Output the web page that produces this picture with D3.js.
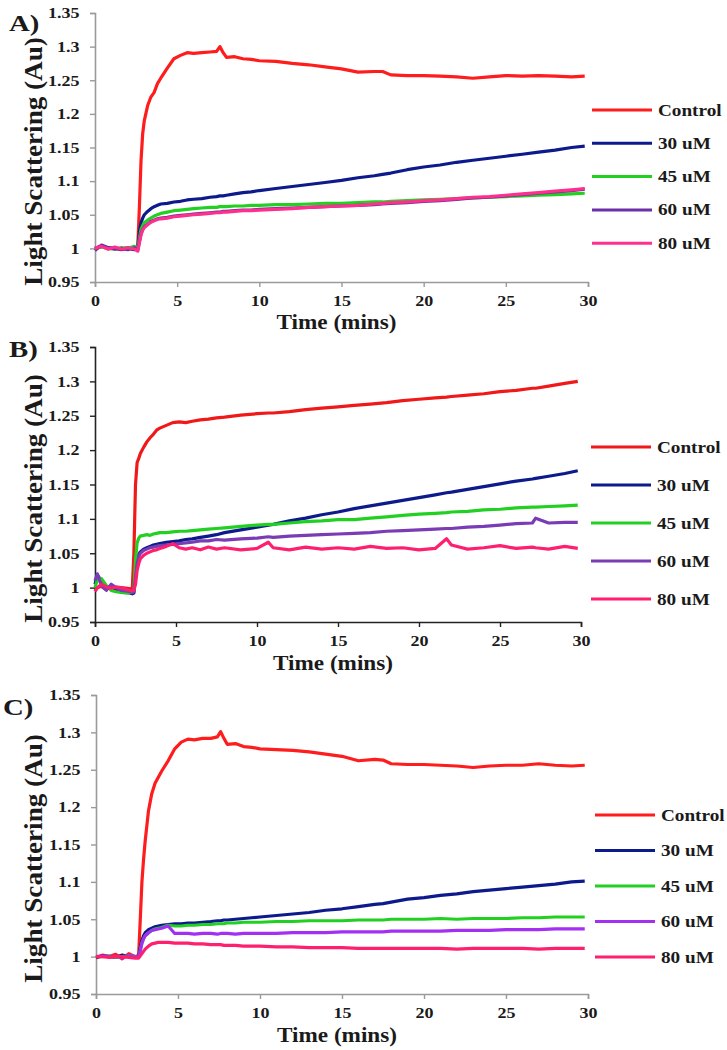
<!DOCTYPE html>
<html>
<head>
<meta charset="utf-8">
<script src="https://cdn.jsdelivr.net/npm/d3@7"></script>
<style>
  body { margin: 0; background: #fff; }
  svg text { font-family: "Liberation Serif", "Times New Roman", serif; font-weight: bold; fill: #1a1a1a; }
</style>
</head>
<body>
<svg id="chart" width="727" height="1050"></svg>
<script>
// time grids (minutes)
var timeAC = [0, 0.4, 0.8, 1.2, 1.6, 2.0, 2.4, 2.6, 2.7, 2.8, 2.9, 3.0, 3.2, 3.4, 3.6, 3.8, 4.0, 4.4, 4.8, 5.2, 5.6, 6.0, 6.5, 7.0, 7.4, 7.6, 7.8, 8.0, 8.5, 9, 9.5, 10, 11, 12, 13, 14, 15, 16, 17, 17.5, 18, 19, 20, 21, 22, 23, 24, 25, 26, 27, 28, 29, 29.8];
var timeB = [0, 0.15, 0.4, 0.7, 1.0, 1.3, 1.6, 2.0, 2.3, 2.4, 2.5, 2.6, 2.7, 2.8, 3.0, 3.2, 3.4, 3.6, 3.8, 4.0, 4.4, 4.8, 5.2, 5.6, 6.0, 6.5, 7, 7.5, 8, 9, 10, 10.7, 11, 12, 13, 14, 15, 16, 17, 18, 19, 20, 21, 21.7, 22, 23, 24, 25, 26, 27, 27.2, 28, 29, 29.8];

// panel A
var controlA = [1.000, 1.003, 0.999, 1.001, 0.998, 1.000, 0.999, 1.002, 1.06, 1.13, 1.17, 1.19, 1.212, 1.225, 1.232, 1.245, 1.253, 1.268, 1.282, 1.287, 1.291, 1.290, 1.291, 1.292, 1.293, 1.300, 1.291, 1.284, 1.285, 1.282, 1.281, 1.279, 1.278, 1.275, 1.273, 1.270, 1.267, 1.262, 1.263, 1.263, 1.258, 1.257, 1.257, 1.256, 1.255, 1.253, 1.255, 1.257, 1.256, 1.257, 1.256, 1.255, 1.256];
var um30A = [1.000, 1.004, 1.001, 1.000, 0.999, 1.001, 0.998, 1.000, 1.025, 1.038, 1.045, 1.05, 1.055, 1.059, 1.062, 1.064, 1.066, 1.067, 1.069, 1.070, 1.072, 1.073, 1.074, 1.076, 1.077, 1.078, 1.078, 1.079, 1.081, 1.083, 1.084, 1.086, 1.089, 1.092, 1.095, 1.098, 1.101, 1.105, 1.108, 1.110, 1.112, 1.117, 1.121, 1.124, 1.128, 1.131, 1.134, 1.137, 1.140, 1.143, 1.146, 1.150, 1.152];
var um45A = [1.000, 1.002, 1.000, 0.999, 1.001, 1.000, 1.003, 0.999, 1.015, 1.028, 1.034, 1.038, 1.042, 1.045, 1.048, 1.050, 1.052, 1.054, 1.056, 1.057, 1.058, 1.059, 1.060, 1.061, 1.061, 1.062, 1.062, 1.062, 1.063, 1.063, 1.064, 1.064, 1.065, 1.065, 1.066, 1.067, 1.067, 1.068, 1.069, 1.069, 1.070, 1.071, 1.072, 1.073, 1.074, 1.075, 1.076, 1.077, 1.078, 1.079, 1.080, 1.081, 1.082];
var um60A = [0.997, 1.005, 1.001, 0.999, 1.000, 0.998, 1.001, 0.997, 1.010, 1.022, 1.028, 1.032, 1.036, 1.040, 1.042, 1.044, 1.045, 1.046, 1.048, 1.049, 1.050, 1.051, 1.052, 1.053, 1.054, 1.054, 1.055, 1.055, 1.056, 1.057, 1.057, 1.058, 1.059, 1.060, 1.061, 1.062, 1.063, 1.064, 1.065, 1.066, 1.067, 1.068, 1.070, 1.071, 1.073, 1.075, 1.076, 1.078, 1.080, 1.082, 1.084, 1.086, 1.088];
var um80A = [1.000, 1.003, 0.999, 1.002, 0.999, 1.001, 0.999, 0.996, 1.008, 1.020, 1.027, 1.031, 1.035, 1.039, 1.041, 1.043, 1.044, 1.045, 1.047, 1.048, 1.049, 1.050, 1.051, 1.052, 1.053, 1.053, 1.054, 1.054, 1.055, 1.056, 1.056, 1.057, 1.058, 1.059, 1.061, 1.062, 1.063, 1.064, 1.066, 1.067, 1.068, 1.069, 1.071, 1.072, 1.074, 1.076, 1.077, 1.079, 1.081, 1.083, 1.085, 1.087, 1.089];

// panel B
var controlB = [0.995, 1.000, 1.002, 0.999, 1.001, 0.998, 1.000, 0.999, 0.998, 1.05, 1.15, 1.182, 1.188, 1.195, 1.204, 1.212, 1.218, 1.223, 1.229, 1.232, 1.236, 1.240, 1.241, 1.240, 1.242, 1.244, 1.245, 1.247, 1.248, 1.251, 1.253, 1.254, 1.254, 1.256, 1.259, 1.261, 1.263, 1.265, 1.267, 1.269, 1.272, 1.274, 1.276, 1.277, 1.278, 1.280, 1.282, 1.285, 1.287, 1.290, 1.290, 1.293, 1.297, 1.300];
var um30B = [1.005, 1.018, 1.010, 1.002, 0.998, 0.996, 0.995, 0.993, 0.991, 0.992, 1.02, 1.04, 1.048, 1.052, 1.056, 1.058, 1.060, 1.062, 1.063, 1.064, 1.066, 1.067, 1.068, 1.070, 1.071, 1.073, 1.075, 1.077, 1.080, 1.084, 1.088, 1.091, 1.092, 1.097, 1.101, 1.106, 1.110, 1.115, 1.119, 1.123, 1.127, 1.131, 1.135, 1.138, 1.139, 1.143, 1.147, 1.151, 1.155, 1.158, 1.159, 1.162, 1.166, 1.170];
var um45B = [1.000, 1.012, 1.013, 1.003, 0.996, 0.994, 0.993, 0.992, 0.993, 0.995, 1.04, 1.065, 1.072, 1.075, 1.076, 1.077, 1.076, 1.078, 1.079, 1.080, 1.080, 1.081, 1.082, 1.082, 1.083, 1.084, 1.085, 1.086, 1.087, 1.089, 1.091, 1.092, 1.092, 1.094, 1.096, 1.097, 1.099, 1.099, 1.101, 1.103, 1.105, 1.107, 1.108, 1.109, 1.110, 1.111, 1.113, 1.114, 1.116, 1.117, 1.117, 1.118, 1.119, 1.120];
var um60B = [1.010, 1.020, 1.002, 0.996, 1.005, 1.000, 0.996, 0.995, 0.993, 0.994, 1.015, 1.035, 1.045, 1.050, 1.054, 1.056, 1.058, 1.059, 1.060, 1.061, 1.062, 1.063, 1.064, 1.065, 1.066, 1.068, 1.068, 1.070, 1.069, 1.071, 1.072, 1.074, 1.073, 1.075, 1.076, 1.077, 1.078, 1.079, 1.080, 1.082, 1.083, 1.084, 1.085, 1.086, 1.086, 1.088, 1.089, 1.091, 1.093, 1.094, 1.101, 1.094, 1.095, 1.095];
var um80B = [0.995, 1.000, 1.005, 1.001, 0.999, 1.001, 1.000, 0.997, 0.995, 0.996, 1.005, 1.025, 1.035, 1.042, 1.047, 1.050, 1.052, 1.054, 1.055, 1.057, 1.060, 1.064, 1.058, 1.056, 1.058, 1.055, 1.059, 1.056, 1.058, 1.055, 1.057, 1.066, 1.058, 1.055, 1.059, 1.056, 1.058, 1.056, 1.060, 1.057, 1.058, 1.055, 1.057, 1.071, 1.062, 1.056, 1.058, 1.061, 1.057, 1.059, 1.058, 1.056, 1.060, 1.057];

// panel C
var controlC = [0.998, 1.002, 1.000, 1.003, 0.997, 1.004, 1.000, 1.002, 1.05, 1.10, 1.13, 1.155, 1.195, 1.218, 1.232, 1.240, 1.248, 1.262, 1.278, 1.287, 1.291, 1.290, 1.292, 1.292, 1.294, 1.301, 1.292, 1.284, 1.285, 1.281, 1.280, 1.278, 1.277, 1.276, 1.274, 1.271, 1.268, 1.262, 1.264, 1.263, 1.258, 1.257, 1.257, 1.256, 1.255, 1.253, 1.255, 1.256, 1.256, 1.258, 1.256, 1.255, 1.256];
var um30C = [0.999, 1.001, 1.000, 0.999, 1.002, 1.000, 0.999, 1.000, 1.012, 1.022, 1.028, 1.032, 1.036, 1.038, 1.040, 1.041, 1.042, 1.043, 1.044, 1.044, 1.045, 1.045, 1.046, 1.047, 1.048, 1.048, 1.049, 1.049, 1.050, 1.051, 1.052, 1.053, 1.055, 1.057, 1.059, 1.062, 1.064, 1.067, 1.070, 1.071, 1.073, 1.077, 1.079, 1.082, 1.084, 1.087, 1.089, 1.091, 1.093, 1.095, 1.097, 1.100, 1.101];
var um45C = [1.000, 1.000, 1.001, 0.999, 1.000, 1.001, 1.000, 0.999, 1.008, 1.018, 1.024, 1.028, 1.032, 1.035, 1.037, 1.038, 1.039, 1.042, 1.041, 1.041, 1.042, 1.042, 1.043, 1.043, 1.044, 1.044, 1.044, 1.045, 1.045, 1.046, 1.046, 1.046, 1.047, 1.047, 1.048, 1.048, 1.048, 1.049, 1.049, 1.049, 1.050, 1.050, 1.050, 1.051, 1.050, 1.051, 1.051, 1.051, 1.052, 1.052, 1.053, 1.053, 1.053];
var um60C = [1.000, 1.001, 1.000, 1.000, 0.999, 1.001, 1.000, 0.999, 1.008, 1.018, 1.024, 1.028, 1.032, 1.035, 1.036, 1.037, 1.038, 1.041, 1.031, 1.031, 1.031, 1.030, 1.031, 1.031, 1.030, 1.031, 1.031, 1.031, 1.030, 1.031, 1.031, 1.031, 1.031, 1.032, 1.032, 1.032, 1.033, 1.033, 1.033, 1.033, 1.034, 1.034, 1.034, 1.034, 1.035, 1.035, 1.035, 1.036, 1.036, 1.036, 1.037, 1.037, 1.037];
var um80C = [1.000, 1.000, 0.999, 1.000, 1.000, 0.999, 0.998, 0.998, 1.001, 1.004, 1.007, 1.010, 1.014, 1.017, 1.018, 1.019, 1.019, 1.019, 1.018, 1.018, 1.018, 1.017, 1.017, 1.016, 1.016, 1.016, 1.015, 1.015, 1.015, 1.014, 1.014, 1.014, 1.013, 1.013, 1.012, 1.012, 1.012, 1.011, 1.011, 1.011, 1.011, 1.011, 1.011, 1.011, 1.010, 1.011, 1.011, 1.011, 1.011, 1.010, 1.011, 1.011, 1.011];

var seriesNames = ["Control", "30 uM", "45 uM", "60 uM", "80 uM"];
var panelLabels = ["A)", "B)", "C)"];
var xTicks = [0, 5, 10, 15, 20, 25, 30];
var yTicks = [0.95, 1, 1.05, 1.1, 1.15, 1.2, 1.25, 1.3, 1.35];
var yTickLabels = ["0.95", "1", "1.05", "1.1", "1.15", "1.2", "1.25", "1.3", "1.35"];

var SX = 1.2; // the picture is a bit wider than tall, so stretch text horizontally

var panels = [
  { label: panelLabels[0], time: timeAC, values: [controlA, um30A, um45A, um60A, um80A],
    colors: ["#ff1c1c", "#0d1a8c", "#22d022", "#6d2fa6", "#ff2f8e"],
    left: 95, right: 588, top: 13, bottom: 282, axisColor: "#9a9a9a",
    labelY: 31, tickY: 306, titleY: 329, legY: 110, legStep: 33.3, legX: 592 },
  { label: panelLabels[1], time: timeB, values: [controlB, um30B, um45B, um60B, um80B],
    colors: ["#f01818", "#0d1a8c", "#22d022", "#7a3cb4", "#ff1f6f"],
    left: 95, right: 581, top: 347, bottom: 622, axisColor: "#222",
    labelY: 357, tickY: 646, titleY: 670, legY: 447, legStep: 38, legX: 591 },
  { label: panelLabels[2], time: timeAC, values: [controlC, um30C, um45C, um60C, um80C],
    colors: ["#ff1c1c", "#0d1a8c", "#22d022", "#a22ff2", "#ff1f6f"],
    left: 96, right: 588, top: 695, bottom: 994, axisColor: "#9a9a9a",
    labelY: 715, tickY: 1018, titleY: 1042, legY: 815, legStep: 35.5, legX: 595 }
];

var svg = d3.select("#chart");

/* draws one panel: axes, the five series and the legend */
function drawPanel(p) {
  var g = svg.append("g");
  var x = d3.scaleLinear().domain([0, 30]).range([p.left, p.right]);
  var y = d3.scaleLinear().domain([0.95, 1.35]).range([p.bottom, p.top]);

  var yAxis = d3.axisLeft(y).tickValues(yTicks).tickSize(5).tickPadding(8)
    .tickFormat(function (d, i) { return yTickLabels[i]; });
  var ya = g.append("g").attr("transform", "translate(" + p.left + ",0)").call(yAxis);
  var xAxis = d3.axisBottom(x).tickValues(xTicks).tickSize(5).tickFormat(d3.format("d"));
  var xa = g.append("g").attr("transform", "translate(0," + p.bottom + ")").call(xAxis);

  [ya, xa].forEach(function (a) {
    a.select(".domain").attr("stroke", p.axisColor).attr("stroke-width", 1.6);
    a.selectAll(".tick line").attr("stroke", p.axisColor).attr("stroke-width", 1.4);
    a.selectAll(".tick text")
      .style("font-family", "Liberation Serif, serif")
      .style("font-weight", "bold")
      .style("font-size", "15px")
      .attr("fill", "#1a1a1a")
      .attr("transform", "scale(" + SX + ",1)");
  });
  xa.selectAll(".tick text").attr("y", null).attr("dy", null)
    .attr("y", p.tickY - p.bottom);

  var line = d3.line()
    .x(function (d) { return x(d[0]); })
    .y(function (d) { return y(d[1]); });

  p.values.forEach(function (vals, i) {
    var pts = p.time.map(function (t, j) { return [t, vals[j]]; });
    g.append("path")
      .datum(pts)
      .attr("fill", "none")
      .attr("stroke", p.colors[i])
      .attr("stroke-width", 3.2)
      .attr("stroke-linejoin", "round")
      .attr("d", line);
  });

  // legend
  seriesNames.forEach(function (name, i) {
    var ly = p.legY + i * p.legStep;
    g.append("line")
      .attr("x1", p.legX).attr("x2", p.legX + 60)
      .attr("y1", ly).attr("y2", ly)
      .attr("stroke", p.colors[i]).attr("stroke-width", 3);
    g.append("text")
      .attr("transform", "translate(" + (p.legX + 66) + "," + (ly + 5.5) + ") scale(" + SX + ",1)")
      .style("font-size", "16px")
      .text(name);
  });

  // panel label and axis titles
  g.append("text")
    .attr("transform", "translate(" + (p.left < 96 ? 9 : 3) + "," + p.labelY + ") scale(" + SX + ",1)")
    .style("font-size", "24px")
    .text(p.label);
  g.append("text")
    .attr("transform", "translate(" + ((p.left + p.right) / 2 - 5) + "," + p.titleY + ") scale(1.16,1)")
    .attr("text-anchor", "middle")
    .style("font-size", "20px")
    .text("Time (mins)");
  g.append("text")
    .attr("transform", "translate(42," + ((p.top + p.bottom) / 2 + 14) + ") scale(1.05,1.18) rotate(-90)")
    .attr("text-anchor", "middle")
    .style("font-size", "23px")
    .text("Light Scattering (Au)");
}

panels.forEach(drawPanel);
</script>
</body>
</html>
